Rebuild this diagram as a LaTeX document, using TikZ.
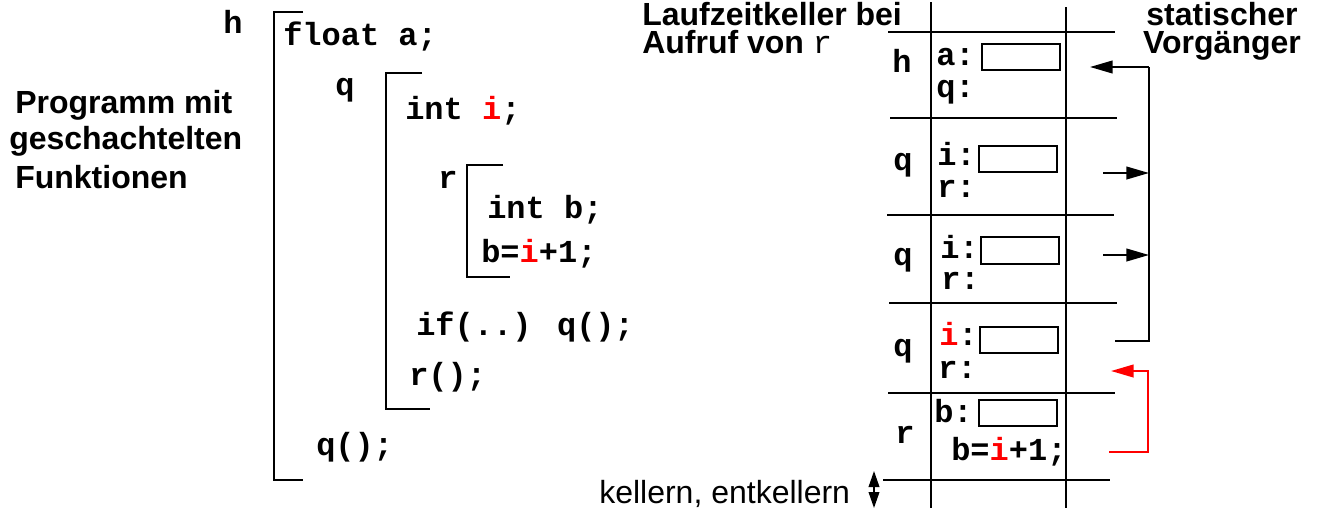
\documentclass[tikz,border=0pt]{standalone}
\usepackage{fontspec}
\setmainfont{Liberation Sans}
\newfontfamily\mono{Liberation Mono}
\usetikzlibrary{arrows.meta}
\begin{document}
\begin{tikzpicture}[x=0.75pt,y=-0.75pt,
  code/.style={anchor=base west,inner sep=0pt,font=\mono\bfseries\fontsize{24}{28}\selectfont},
  lbl/.style={anchor=base,inner sep=0pt,font=\mono\bfseries\fontsize{24}{28}\selectfont},
  ttl/.style={anchor=base west,inner sep=0pt,font=\bfseries\fontsize{24}{21}\selectfont},
  ln/.style={line width=1.5pt},
  slot/.style={draw,line width=1.5pt,inner sep=0pt,minimum width=58.5pt,minimum height=20pt},
  arr/.style={line width=1.5pt,-{Triangle[length=17pt,width=9.5pt]}},
]
\useasboundingbox (0,0) rectangle (1318,508);
% ---------- left title
\node[ttl] (t1) at (15,113) {Programm mit};
\node[ttl] (t2) at (9,149) {geschachtelten};
\node[ttl] (t3) at (15,188) {Funktionen};
% ---------- program
\node[lbl] (lh) at (233,33) {h};
\draw[ln] (303,12) -- (274,12) -- (274,480) -- (303,480);
\node[code] (c1) at (283,45) {float a;};
\node[lbl] (lq) at (345,95) {q};
\draw[ln] (422,73) -- (386,73) -- (386,409) -- (430,409);
\node[code] (c2) at (405,119) {int \textcolor{red}{i};};
\node[lbl] (lr) at (448,188) {r};
\draw[ln] (503,165) -- (467,165) -- (467,277) -- (510,277);
\node[code] (c3) at (487,218) {int b;};
\node[code] (c4) at (481,262) {b=\textcolor{red}{i}+1;};
\node[code] (c5) at (416,335) {if(..) q();};
\node[code] (c6) at (409,385) {r();};
\node[code] (c7) at (316,455) {q();};
% ---------- stack titles
\node[ttl,align=left] (s1) at (642,53) {Laufzeitkeller bei\\Aufruf von {\mono\mdseries r}};
\node[ttl,anchor=base,align=center] (v1) at (1222,53) {statischer\\Vorgänger};
% ---------- stack grid
\draw[ln] (931,2) -- (931,508);
\draw[ln] (1066,7) -- (1066,508);
\draw[ln] (888,32) -- (1115,32);
\draw[ln] (890,118) -- (1117,118);
\draw[ln] (887,215) -- (1114,215);
\draw[ln] (889,303) -- (1117,303);
\draw[ln] (888,393) -- (1115,393);
\draw[ln] (883,480) -- (1110,480);
% row 1
\node[lbl] (rh) at (902,72) {h};
\node[code] (a1) at (936,65) {a:};
\node[slot] (b1) at (1020.5,57) {};
\node[code] (q1) at (936,97) {q:};
% row 2
\node[lbl] (rq2) at (903,170) {q};
\node[code] (i2) at (937,165) {i:};
\node[slot] (b2) at (1018,159) {};
\node[code] (r2) at (937,197) {r:};
% row 3
\node[lbl] (rq3) at (903,265) {q};
\node[code] (i3) at (940,258) {i:};
\node[slot] (b3) at (1019.5,250.5) {};
\node[code] (r3) at (941,289) {r:};
% row 4
\node[lbl] (rq4) at (903,356) {q};
\node[code] (i4) at (939,345) {\textcolor{red}{i}:};
\node[slot] (b4) at (1018.5,340) {};
\node[code] (r4) at (938,378) {r:};
% row 5
\node[lbl] (rr5) at (905,443) {r};
\node[code] (b5l) at (934,422) {b:};
\node[slot] (b5) at (1017.5,413) {};
\node[code] (b5c) at (951,460) {b=\textcolor{red}{i}+1;};
% ---------- static links
\coordinate (p1) at (1090,67);
\coordinate (k1) at (1149,67);
\coordinate (p2) at (1103,173);
\coordinate (k2) at (1149,173);
\coordinate (p3) at (1103,255);
\coordinate (k3) at (1149,255);
\coordinate (p4) at (1115,341);
\coordinate (k4) at (1149,341);
\draw[ln] (p4) -- (k4) -- (k1);
\draw[arr] (k1) -- (p1);
\draw[arr] (p2) -- (k2);
\draw[arr] (p3) -- (k3);
\coordinate (rp1) at (1111,371);
\coordinate (rk1) at (1148,371);
\coordinate (rp2) at (1109,452);
\coordinate (rk2) at (1148,452);
\draw[arr,red] (rp2) -- (rk2) -- (rk1) -- (rp1);
% ---------- push/pop
\node[anchor=base west,inner sep=0pt,font=\fontsize{24}{28}\selectfont] (kl) at (599,503) {kellern, entkellern};
\coordinate (u1) at (874,471);
\coordinate (u2) at (874,508);
\draw[line width=1.2pt,{Triangle[length=12pt,width=8pt]}-{Triangle[length=12pt,width=8pt]}] (u1) -- (u2);
\end{tikzpicture}
\end{document}
